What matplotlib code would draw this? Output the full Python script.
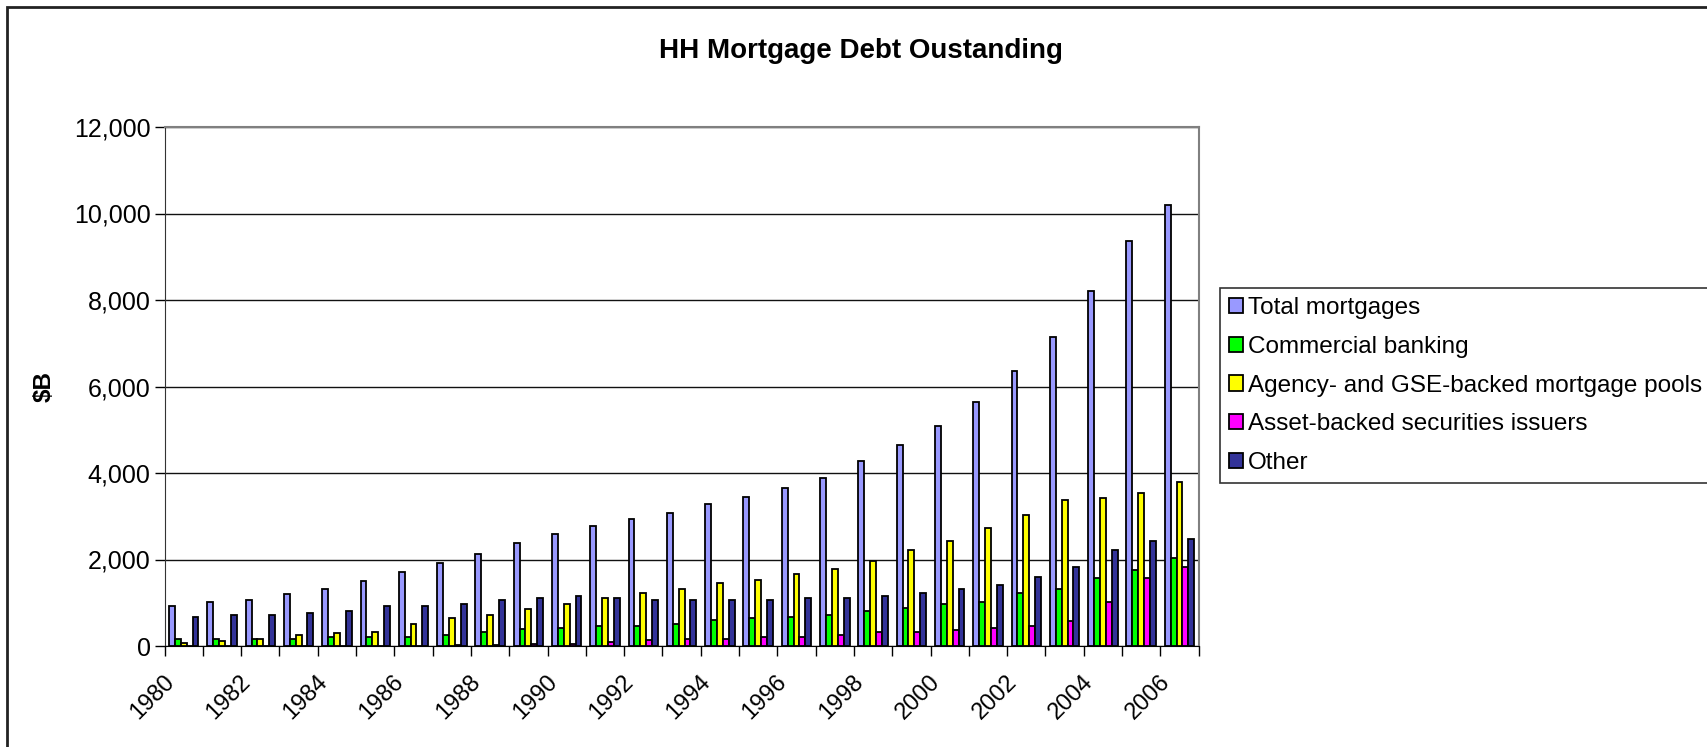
import numpy as np
import matplotlib
matplotlib.use("Agg")
import matplotlib.pyplot as plt
from matplotlib.patches import Rectangle
from matplotlib.ticker import FuncFormatter
from matplotlib.transforms import ScaledTranslation

plt.rcParams["font.family"] = ["Liberation Sans", "DejaVu Sans"]

years = list(range(1980, 2007))

# $B outstanding by holder
total = [931, 1015, 1069, 1192, 1323, 1492, 1708, 1915, 2131, 2383, 2598, 2766, 2943, 3065,
         3280, 3448, 3663, 3877, 4269, 4654, 5085, 5638, 6362, 7152, 8215, 9370, 10208]
commercial = [162, 162, 162, 158, 200, 208, 208, 254, 331, 383, 421, 467, 467, 506,
              590, 636, 674, 720, 800, 885, 977, 1015, 1231, 1315, 1569, 1746, 2046]
agency = [77, 115, 162, 254, 292, 331, 508, 638, 723, 851, 981, 1103, 1234, 1318,
          1448, 1533, 1663, 1785, 1954, 2223, 2431, 2731, 3031, 3369, 3415, 3546, 3800]
abs_issuers = [0, 0, 0, 0, 0, 5, 8, 12, 20, 35, 46, 84, 130, 169,
               169, 207, 207, 253, 331, 331, 369, 423, 462, 585, 1015, 1577, 1838]
other = [677, 723, 723, 769, 808, 931, 931, 977, 1062, 1103, 1149, 1103, 1065, 1065,
         1065, 1065, 1103, 1103, 1154, 1231, 1323, 1408, 1585, 1831, 2223, 2438, 2477]

series = [
    ("Total mortgages", total, "#9999FF"),
    ("Commercial banking", commercial, "#00FF00"),
    ("Agency- and GSE-backed mortgage pools", agency, "#FFFF00"),
    ("Asset-backed securities issuers", abs_issuers, "#FF00FF"),
    ("Other", other, "#333399"),
]

W, H = 1707, 747
fig = plt.figure(figsize=(W / 100, H / 100), dpi=100)
ax = fig.add_axes([164.6 / W, 1 - 646 / H, (1198.6 - 164.6) / W, (646 - 127) / H])

x = np.arange(len(years))
bw = 1 / 6.5
handles = []
for k, (label, vals, color) in enumerate(series):
    b = ax.bar(x + (k - 2) * bw, vals, width=bw, color=color, edgecolor="black",
               linewidth=1.3, label=label, zorder=3)
    handles.append(b)

ax.set_xlim(-0.5, len(years) - 0.5)
ax.set_ylim(0, 12000)
ax.set_yticks(range(0, 12001, 2000))
ax.yaxis.set_major_formatter(FuncFormatter(lambda v, p: f"{int(v):,}"))
ax.grid(axis="y", color="#111111", linewidth=1, zorder=0)

# tick marks sit between categories
ax.set_xticks(np.arange(len(years) + 1) - 0.5)
ax.set_xticklabels([])
ax.tick_params(axis="x", length=7, width=1, direction="out")
ax.tick_params(axis="y", length=7, width=1, direction="out", labelsize=18, pad=3)

# year labels on every other category, slanted
offset = ScaledTranslation(-13 / 100, -33 / 100, fig.dpi_scale_trans)
for xi, yr in zip(x[::2], years[::2]):
    ax.text(xi, 0, str(yr), transform=ax.get_xaxis_transform() + offset,
            rotation=45, ha="right", va="center", rotation_mode="anchor",
            fontsize=17, clip_on=False)

for side in ("top", "right"):
    ax.spines[side].set_color("#808080")
    ax.spines[side].set_linewidth(1.5)
ax.spines["left"].set_color("#333333")
ax.spines["bottom"].set_color("black")

fig.text(44 / W, 1 - 386 / H, "$B", fontsize=17.5, fontweight="bold",
         rotation=90, ha="center", va="center")
fig.text(861 / W, 1 - 57.5 / H, "HH Mortgage Debt Oustanding", fontsize=20,
         fontweight="bold", ha="center", va="baseline")

leg = fig.legend(handles=handles, loc="upper left",
                 bbox_to_anchor=(1220 / W, 1 - 288 / H), fontsize=17.5,
                 frameon=True, fancybox=False, edgecolor="black",
                 handlelength=0.58, handleheight=0.58, handletextpad=0.2,
                 labelspacing=0.69, borderpad=0.37, borderaxespad=0)
leg.get_frame().set_linewidth(1.2)

# chart area border
fig.patches.append(Rectangle((7 / W, -0.1), 1.2, 1 - 7 / H + 0.1,
                             transform=fig.transFigure, fill=False,
                             edgecolor="#222222", linewidth=2))

fig.savefig("out.png", dpi=100)
